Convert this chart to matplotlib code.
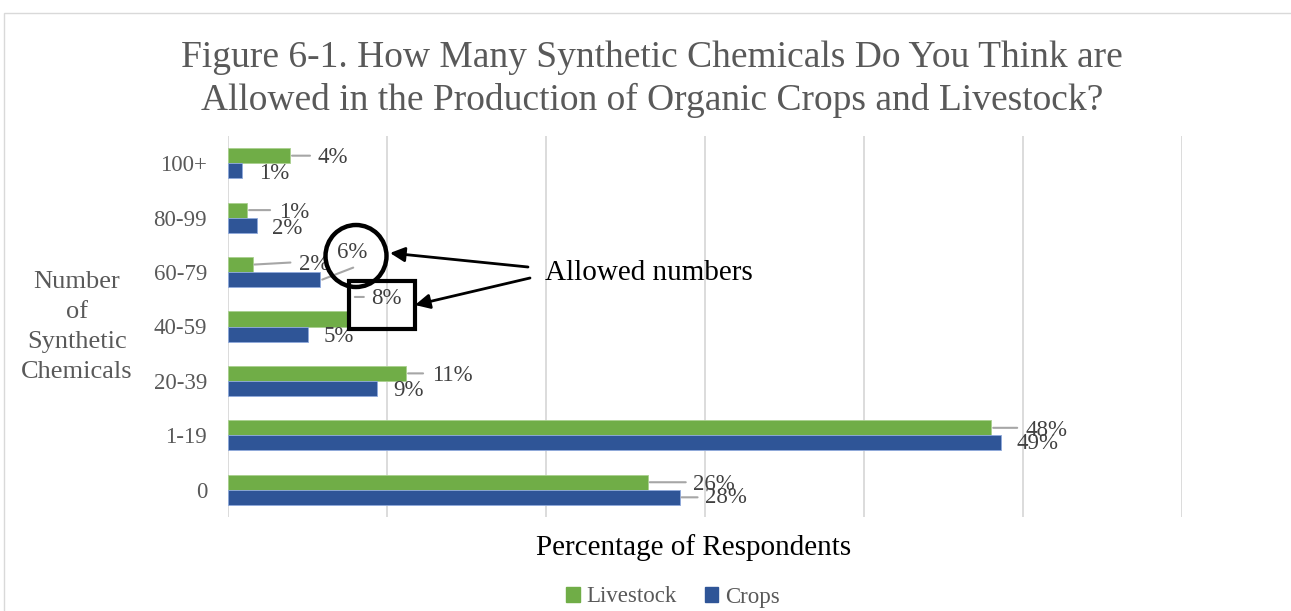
import matplotlib
matplotlib.use("Agg")
import matplotlib.pyplot as plt
from matplotlib.patches import Patch, Ellipse, Rectangle, FancyArrowPatch
from matplotlib.transforms import offset_copy

# data (percent of respondents)
categories = ['0', '1-19', '20-39', '40-59', '60-79', '80-99', '100+']
livestock = [26.4, 48.0, 11.2, 7.6, 1.6, 1.2, 3.9]
crops = [28.4, 48.6, 9.4, 5.0, 5.8, 1.8, 0.9]

GREEN = '#70AD47'
BLUE = '#2F5597'
W, H = 1291, 611

# label offsets from bar end in pixels (x right, y down), and leader stubs
liv_lab = [(66, 2), (55, 3), (46, 2), (38, -20), (61, 0), (47, 2), (43, 2)]
crp_lab = [(46, 0), (37, 1), (31, 2), (31, 2), (32, -27), (31, 3), (32, 3)]
liv_lead = [((2, 0), (38, 0)), ((2, 0), (26, 0)), ((2, 0), (17, 0)),
            ((6, -22), (15, -22)), ((1, 0), (37, -2)), ((2, 0), (23, 0)),
            ((2, 0), (20, 0))]
crp_lead = [((2, 0), (18, 0)), None, None, None, ((2, 0), (33, -12)),
            None, None]

plt.rcParams['font.family'] = ['Liberation Serif', 'DejaVu Serif']

fig = plt.figure(figsize=(W / 100, H / 100), dpi=100)


def px(x, y):
    return (x / W, 1 - y / H)


ax = fig.add_axes([228 / W, 1 - 517 / H, (1182 - 228) / W, (517 - 136) / H])
ys = list(range(len(categories)))
bh = 0.277
ax.barh([y + bh / 2 for y in ys], livestock, height=bh, color=GREEN,
        edgecolor='#A9D08E', linewidth=0.6, zorder=3)
ax.barh([y - bh / 2 for y in ys], crops, height=bh, color=BLUE,
        edgecolor='#8FAADC', linewidth=0.6, zorder=3)
ax.set_xlim(0, 60)
ax.set_ylim(-0.5, len(categories) - 0.5)
ax.set_xticks(range(0, 61, 10))
ax.set_xticklabels([])
ax.tick_params(axis='x', length=0)
ax.grid(axis='x', color='#D9D9D9', lw=1.3, zorder=0)
ax.set_yticks(ys)
ax.set_yticklabels(categories, fontsize=16.5, color='#595959')
ax.tick_params(axis='y', length=0, pad=15)
for s in ax.spines.values():
    s.set_visible(False)


def label(vals, offs, leads, sign):
    for i, v in enumerate(vals):
        y = i + sign * bh / 2
        dx, dy = offs[i]
        ax.annotate(f"{round(v)}%", (v, y), xytext=(dx, -dy),
                    textcoords='offset pixels', ha='center', va='center',
                    fontsize=16.5, color='#404040', zorder=5)
        if leads[i] is not None:
            (x0, y0), (x1, y1) = leads[i]
            ax.annotate('', xy=(v, y), xytext=(v, y),
                        xycoords=offset_copy(ax.transData, fig=fig, x=x0, y=-y0, units='dots'),
                        textcoords=offset_copy(ax.transData, fig=fig, x=x1, y=-y1, units='dots'),
                        arrowprops=dict(arrowstyle='-', shrinkA=0, shrinkB=0,
                                        color='#A6A6A6', lw=1.5), zorder=4)


label(livestock, liv_lab, liv_lead, 1)
label(crops, crp_lab, crp_lead, -1)

# titles
fig.text(652 / W, 1 - 79 / H,
         "Figure 6-1. How Many Synthetic Chemicals Do You Think are\n"
         "Allowed in the Production of Organic Crops and Livestock?",
         ha='center', va='center', fontsize=27, color='#595959', linespacing=1.28)
fig.text(694 / W, 1 - 548 / H, "Percentage of Respondents", ha='center',
         va='center', fontsize=21, color='#000000')
fig.text(77 / W, 1 - 327 / H, "Number\nof\nSynthetic\nChemicals", ha='center',
         va='center', fontsize=19, color='#595959', linespacing=1.48)

# annotation marks
fig.add_artist(Ellipse(px(356, 256), 61 / W, 62 / H, transform=fig.transFigure,
                       fill=False, edgecolor='black', lw=3.2, zorder=6))
fig.add_artist(Rectangle(px(349, 329), 66 / W, 48 / H, transform=fig.transFigure,
                         fill=False, edgecolor='black', lw=3.0, zorder=6))
for tail, tip in [((528, 267), (390, 253)), ((530, 278), (415, 305))]:
    fig.add_artist(FancyArrowPatch(px(*tail), px(*tip), transform=fig.transFigure,
                                   arrowstyle='-|>', mutation_scale=22,
                                   color='black', lw=2, shrinkA=0, shrinkB=0,
                                   zorder=6))
fig.text(545 / W, 1 - 273 / H, "Allowed numbers", ha='left', va='center',
         fontsize=21, color='black')

# legend
handles = [Patch(color=GREEN, label='Livestock'), Patch(color=BLUE, label='Crops')]
fig.legend(handles=handles, loc='center', bbox_to_anchor=(673 / W, 1 - 597 / H),
           ncol=2, frameon=False, fontsize=16.5, handlelength=0.6, handleheight=0.6,
           handletextpad=0.3, columnspacing=1.2, labelcolor='#595959')

# outer chart border
fig.add_artist(Rectangle((4 / W, -0.1), 2, 1 - 13 / H + 0.1, transform=fig.transFigure,
                         fill=False, edgecolor='#D9D9D9', lw=1))

fig.savefig('out.png', dpi=100)
